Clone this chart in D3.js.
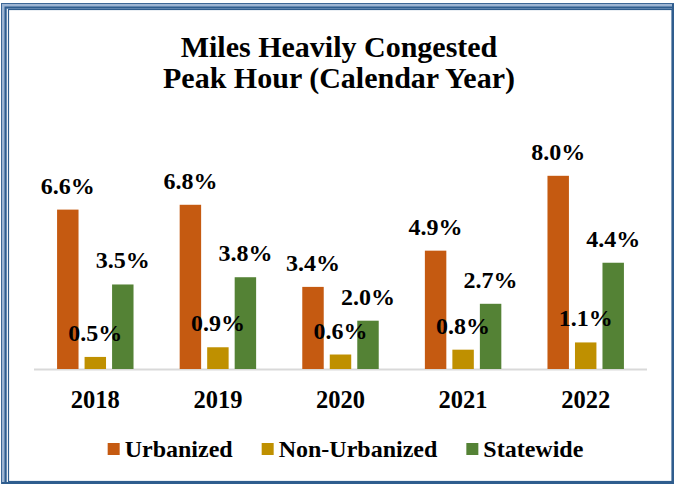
<!DOCTYPE html>
<html>
<head>
<meta charset="utf-8">
<script src="https://cdn.jsdelivr.net/npm/d3@7"></script>
<style>
  html, body { margin: 0; padding: 0; background: #fff; }
  svg { display: block; }
</style>
</head>
<body>
<svg id="chart" width="676" height="485"></svg>
<script>
// Share of miles heavily congested in the peak hour, by calendar year (percent)
const years = ["2018", "2019", "2020", "2021", "2022"];
const seriesNames = ["Urbanized", "Non-Urbanized", "Statewide"];
const urbanized = [6.6, 6.8, 3.4, 4.9, 8.0];
const nonUrbanized = [0.5, 0.9, 0.6, 0.8, 1.1];
const statewide = [3.5, 3.8, 2.0, 2.7, 4.4];
const seriesColors = ["#C55A11", "#BF9000", "#548235"];
const titleLines = ["Miles Heavily Congested", "Peak Hour (Calendar Year)"];

const FONT = "Liberation Serif";

const seriesValues = [urbanized, nonUrbanized, statewide];
const rows = years.map((y, i) => ({
  year: y,
  values: seriesNames.map((s, j) => ({ series: s, value: seriesValues[j][i], color: seriesColors[j] }))
}));

const svg = d3.select("#chart");

function styleText(sel, size) {
  return sel.attr("font-family", FONT).attr("font-weight", "bold")
    .attr("font-size", size).attr("fill", "#000");
}

// Framed border: light band on left/top with dark rules
const frame = svg.append("g");
frame.append("rect").attr("x", 1).attr("y", 3).attr("width", 6).attr("height", 481).attr("fill", "#9DB5D3");
frame.append("rect").attr("x", 1).attr("y", 3).attr("width", 673).attr("height", 6).attr("fill", "#9DB5D3");
frame.append("rect").attr("x", 1.5).attr("y", 3.5).attr("width", 672).attr("height", 480)
  .attr("fill", "none").attr("stroke", "#3C6796").attr("stroke-width", 1);
frame.append("path").attr("d", "M5.5,484 V7.5 H674").attr("fill", "none").attr("stroke", "#2F5D8E").attr("stroke-width", 2);
frame.append("rect").attr("x", 8.5).attr("y", 9.5).attr("width", 663.5).attr("height", 472)
  .attr("fill", "#fff").attr("stroke", "#2F5D8E").attr("stroke-width", 1.2);
frame.append("path").attr("d", "M673,4 V483 H2").attr("fill", "none").attr("stroke", "#2F5D8E").attr("stroke-width", 2);

// Title
svg.append("g").selectAll("text").data(titleLines).join("text")
  .call(styleText, 30)
  .attr("x", 339).attr("y", (d, i) => 57 + i * 31)
  .attr("text-anchor", "middle")
  .text(d => d);

// Scales
const x0 = d3.scaleBand().domain(years).range([34, 647]).padding(0);
const x1 = d3.scaleBand().domain(seriesNames).range([-41.25, 41.25]).paddingInner(0.22).paddingOuter(0.11);
const y = d3.scaleLinear().domain([0, 9]).range([369, 369 - 9 * 24.15]);

// Baseline
svg.append("line").attr("x1", 34).attr("x2", 647).attr("y1", y(0) + 0.5).attr("y2", y(0) + 0.5)
  .attr("stroke", "#D9D9D9").attr("stroke-width", 2);

// Bars and value labels
const groups = svg.append("g").selectAll("g").data(rows).join("g")
  .attr("transform", d => `translate(${x0(d.year) + x0.bandwidth() / 2},0)`);

groups.selectAll("rect").data(d => d.values).join("rect")
  .attr("x", d => x1(d.series))
  .attr("y", d => y(d.value))
  .attr("width", x1.bandwidth())
  .attr("height", d => y(0) - y(d.value))
  .attr("fill", d => d.color);

groups.selectAll("text").data(d => d.values).join("text")
  .call(styleText, 24)
  .attr("x", d => x1(d.series) + x1.bandwidth() / 2)
  .attr("y", d => y(d.value) - 16)
  .attr("text-anchor", "middle")
  .text(d => d.value.toFixed(1) + "%");

// Category axis
const xAxis = svg.append("g").attr("transform", `translate(0,${y(0)})`)
  .call(d3.axisBottom(x0).tickSize(0).tickPadding(0));
xAxis.select(".domain").remove();
xAxis.attr("font-family", FONT);
xAxis.selectAll("text")
  .call(styleText, 24.5)
  .attr("dy", null).attr("y", 39);

// Legend
const legend = svg.append("g");
const items = legend.selectAll("g").data(seriesNames).join("g");
items.append("rect").attr("width", 12).attr("height", 12).attr("y", -14)
  .attr("fill", (d, i) => seriesColors[i]);
items.append("text").call(styleText, 24).attr("x", 17).attr("y", 0).text(d => d);
const widths = [];
items.each(function () {
  widths.push(17 + d3.select(this).select("text").node().getComputedTextLength());
});
const gap = 29;
const total = d3.sum(widths) + gap * (widths.length - 1);
let start = 345.5 - total / 2;
items.attr("transform", (d, i) => {
  const tx = start;
  start += widths[i] + gap;
  return `translate(${tx},457)`;
});
</script>
</body>
</html>
